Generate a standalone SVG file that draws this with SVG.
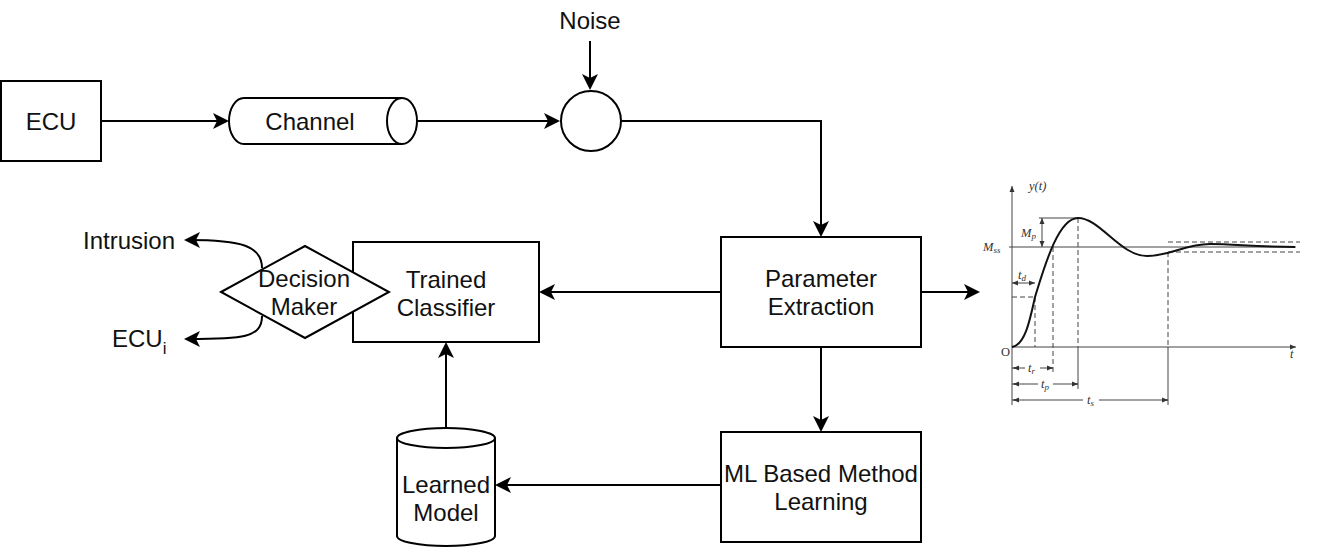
<svg xmlns="http://www.w3.org/2000/svg" width="1340" height="550" viewBox="0 0 1340 550">
<style>
.box{fill:#fff;stroke:#000;stroke-width:2}
.lbl{font-family:"Liberation Sans",Arial,sans-serif;font-size:24px;fill:#111;text-anchor:middle}
.conn{fill:none;stroke:#000;stroke-width:2}
.g{fill:none;stroke:#444;stroke-width:1}
.gd{fill:none;stroke:#444;stroke-width:1;stroke-dasharray:5,3}
.gt{font-family:"Liberation Serif","Times New Roman",serif;font-size:12.5px;font-style:italic;fill:#333}
</style>
<defs>
<marker id="arr" viewBox="-17 -9 18 18" refX="-4" refY="0" markerWidth="18" markerHeight="18" markerUnits="userSpaceOnUse" orient="auto">
<path d="M0,0 L-16,-8 L-12,0 L-16,8 Z" fill="#000"/>
</marker>
<marker id="sm" viewBox="-7 -4 8 8" refX="0" refY="0" markerWidth="8" markerHeight="8" markerUnits="userSpaceOnUse" orient="auto-start-reverse">
<path d="M0,0 L-6,-2.5 L-6,2.5 Z" fill="#333"/>
</marker>
</defs>
<rect width="1340" height="550" fill="#fff"/>

<g id="connectors">
<path class="conn" d="M101,121 H225" marker-end="url(#arr)"/>
<path class="conn" d="M417,121 H556" marker-end="url(#arr)"/>
<path class="conn" d="M590,41 V86" marker-end="url(#arr)"/>
<path class="conn" d="M621,121 H821 V233" marker-end="url(#arr)"/>
<path class="conn" d="M721,292 H543" marker-end="url(#arr)"/>
<path class="conn" d="M921,292 H976" marker-end="url(#arr)"/>
<path class="conn" d="M821,347 V428" marker-end="url(#arr)"/>
<path class="conn" d="M721,485 H499" marker-end="url(#arr)"/>
<path class="conn" d="M446,428 V346" marker-end="url(#arr)"/>
<path class="conn" d="M262,268 C262,246 242,240 188,240" marker-end="url(#arr)"/>
<path class="conn" d="M262,316 C262,338 242,339 188,339" marker-end="url(#arr)"/>
</g>

<g id="ecu">
<rect class="box" x="1" y="81" width="100" height="80"/>
<text class="lbl" x="51" y="130">ECU</text>
</g>

<g id="channel">
<path class="box" d="M244,98 H402 A15,23 0 0 1 402,144 H244 A15,23 0 0 1 244,98 Z"/>
<path class="conn" d="M402,98 A15,23 0 0 0 402,144"/>
<text class="lbl" x="310" y="130">Channel</text>
</g>

<g id="noise">
<text class="lbl" x="590" y="29">Noise</text>
</g>

<g id="sum">
<circle class="box" cx="591" cy="121" r="30"/>
</g>

<g id="parameter-extraction">
<rect class="box" x="721" y="237" width="200" height="110"/>
<text class="lbl" x="821" y="287">Parameter</text>
<text class="lbl" x="821" y="315">Extraction</text>
</g>

<g id="ml-learning">
<rect class="box" x="721" y="432" width="200" height="110"/>
<text class="lbl" x="821" y="482">ML Based Method</text>
<text class="lbl" x="821" y="510">Learning</text>
</g>

<g id="learned-model">
<path class="box" d="M397,438 A49,10 0 0 1 495,438 V536 A49,10 0 0 1 397,536 Z"/>
<path class="conn" d="M397,438 A49,10 0 0 0 495,438"/>
<text class="lbl" x="446" y="493">Learned</text>
<text class="lbl" x="446" y="521">Model</text>
</g>

<g id="trained-classifier">
<rect class="box" x="353" y="242" width="186" height="100"/>
<text class="lbl" x="446" y="288">Trained</text>
<text class="lbl" x="446" y="316">Classifier</text>
</g>

<g id="decision-maker">
<path class="box" d="M221,292 L305,246 L389,292 L305,338 Z"/>
<text class="lbl" x="304" y="287">Decision</text>
<text class="lbl" x="304" y="315">Maker</text>
</g>

<g id="intrusion">
<text class="lbl" x="129" y="249">Intrusion</text>
</g>

<g id="ecu-i">
<text class="lbl" x="112" y="347" style="text-anchor:start">ECU<tspan font-size="17" dy="7">i</tspan></text>
</g>

<g id="step-response">
<path class="g" d="M1012,405 V186" marker-end="url(#sm)"/>
<path class="g" d="M1012,347 H1296" marker-end="url(#sm)"/>
<path class="g" d="M1009,247 H1296"/>
<path class="gd" d="M1168,242 H1300 M1168,252 H1300"/>
<path class="g" d="M1039,218 H1078"/>
<path class="g" d="M1042,218 V247" marker-start="url(#sm)" marker-end="url(#sm)"/>
<path class="gd" d="M1012,297 H1035 M1035,297 V347"/>
<path class="g" d="M1012,283 H1035" marker-start="url(#sm)" marker-end="url(#sm)"/>
<path class="gd" d="M1053,247 V372"/>
<path class="gd" d="M1078,218 V347"/>
<path class="g" d="M1078,347 V389"/>
<path class="gd" d="M1168,252 V347"/>
<path class="g" d="M1168,347 V405"/>
<path class="g" d="M1012,368 H1025 M1040,368 H1053"/>
<path class="g" d="M1013,368 H1015" marker-start="url(#sm)"/>
<path class="g" d="M1051,368 H1053" marker-end="url(#sm)"/>
<path class="g" d="M1012,384 H1038 M1053,384 H1078"/>
<path class="g" d="M1013,384 H1015" marker-start="url(#sm)"/>
<path class="g" d="M1076,384 H1078" marker-end="url(#sm)"/>
<path class="g" d="M1012,400 H1083 M1099,400 H1168"/>
<path class="g" d="M1013,400 H1015" marker-start="url(#sm)"/>
<path class="g" d="M1166,400 H1168" marker-end="url(#sm)"/>
<path fill="none" stroke="#111" stroke-width="2" d="M1012,347 C1025,345 1030,320 1035,297 C1044,268 1058,218 1078,218 C1100,218 1120,256 1147,256 C1170,256 1185,244 1210,244 C1235,244 1255,247 1295,247"/>
<text class="gt" x="1029" y="190">y(t)</text>
<text class="gt" x="983" y="251">M<tspan font-size="9" dy="2">ss</tspan></text>
<text class="gt" x="1021" y="237">M<tspan font-size="9" dy="2">p</tspan></text>
<text class="gt" x="1018" y="279">t<tspan font-size="9" dy="2">d</tspan></text>
<text class="gt" x="1028" y="372">t<tspan font-size="9" dy="2">r</tspan></text>
<text class="gt" x="1041" y="388">t<tspan font-size="9" dy="2">p</tspan></text>
<text class="gt" x="1087" y="404">t<tspan font-size="9" dy="2">s</tspan></text>
<text x="1001" y="356" font-family="Liberation Serif, serif" font-size="12.5" fill="#333">O</text>
<text class="gt" x="1290" y="358">t</text>
</g>
</svg>
